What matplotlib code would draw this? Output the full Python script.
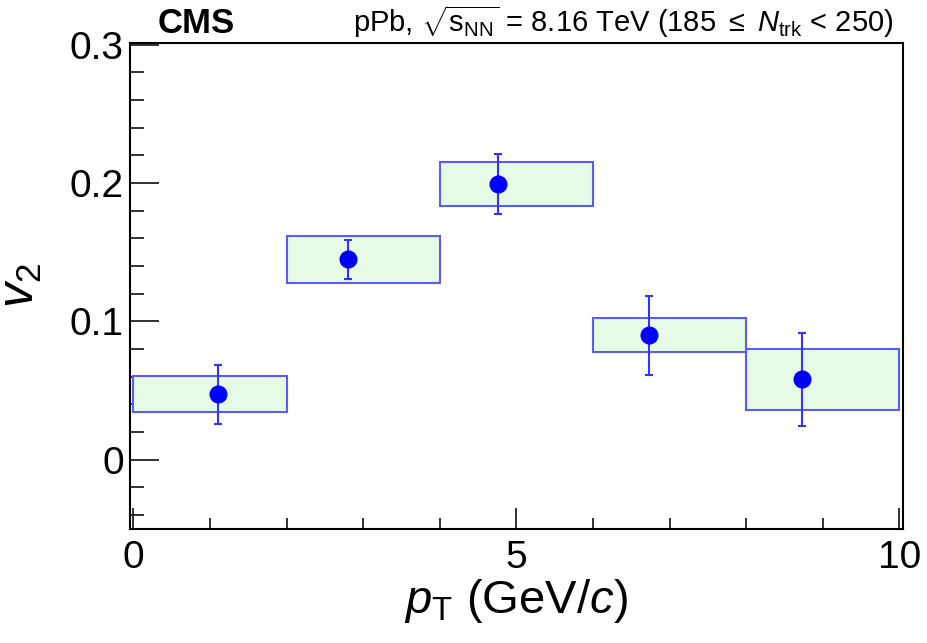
import matplotlib
matplotlib.use("Agg")
import matplotlib.pyplot as plt
from matplotlib.patches import Rectangle
from matplotlib.ticker import MultipleLocator, FixedLocator
import numpy as np

plt.rcParams['font.family'] = ['Liberation Sans', 'DejaVu Sans']
plt.rcParams['mathtext.fontset'] = 'custom'
plt.rcParams['mathtext.rm'] = 'Liberation Sans'
plt.rcParams['mathtext.it'] = 'Liberation Sans:italic'
plt.rcParams['mathtext.bf'] = 'Liberation Sans:bold'

# data
pt = [1.108, 2.807, 4.76, 6.737, 8.73]
v2 = [0.0474, 0.1449, 0.199, 0.090, 0.058]
stat_lo = [0.026, 0.1309, 0.1774, 0.0611, 0.024]
stat_hi = [0.0686, 0.1588, 0.221, 0.1186, 0.0915]
bin_lo = [0, 2, 4, 6, 8]
bin_hi = [2, 4, 6, 8, 10]
sys_lo = [0.0344, 0.128, 0.183, 0.0778, 0.0356]
sys_hi = [0.0604, 0.1617, 0.215, 0.1023, 0.080]

fig = plt.figure(figsize=(9.27, 6.43), dpi=100)
ax = fig.add_axes([0.1397, 0.1778, 0.9744 - 0.1397, 0.9327 - 0.1778])

for i in range(len(pt)):
    ax.add_patch(Rectangle((bin_lo[i], sys_lo[i]), bin_hi[i] - bin_lo[i],
                           sys_hi[i] - sys_lo[i], facecolor='#e6fbe6',
                           edgecolor='#5a5aff', linewidth=1.5, zorder=2))

v2 = np.array(v2)
yerr = [v2 - np.array(stat_lo), np.array(stat_hi) - v2]
ax.errorbar(pt, v2, yerr=yerr, fmt='o', color='#0000ff', ecolor='#3333ff',
            markersize=12, elinewidth=1.5, capsize=3, capthick=1.5, zorder=3)

ax.set_xlim(-0.05, 10.05)
ax.set_ylim(-0.05, 0.301)

ax.xaxis.set_major_locator(FixedLocator([0, 5, 10]))
ax.xaxis.set_minor_locator(FixedLocator([1, 2, 3, 4, 6, 7, 8, 9]))
ax.yaxis.set_major_locator(FixedLocator([0, 0.1, 0.2, 0.3]))
ax.yaxis.set_minor_locator(MultipleLocator(0.02))
ax.set_xticklabels(['0', '5', '10'])
ax.set_yticklabels(['0', '0.1', '0.2', '0.3'])

ax.tick_params(axis='both', which='both', direction='in', top=False, right=False,
               labelsize=28, width=1.3, color='#222222')
ax.tick_params(axis='x', which='major', length=15, pad=8)
ax.tick_params(axis='x', which='minor', length=8)
ax.tick_params(axis='y', which='major', length=21, pad=4)
ax.tick_params(axis='y', which='minor', length=10)
for s in ax.spines.values():
    s.set_linewidth(1.5)

ax.set_xlabel(r'$p_{\mathrm{T}}$ (GeV/$c$)', fontsize=34, labelpad=0)
ax.xaxis.set_label_coords(0.5, -0.10)
ax.set_ylabel(r'$v_{2}$', fontsize=36)
ax.yaxis.set_label_coords(-0.11, 0.5)

fig.text(0.170, 0.938, 'CMS', fontsize=25, fontweight='bold', ha='left', va='bottom')
fig.text(0.964, 0.938,
         r'pPb, $\sqrt{\mathrm{s}_{\mathrm{NN}}}$ = 8.16 TeV (185 $\leq$ $N_{\mathrm{trk}}$ < 250)',
         fontsize=21, ha='right', va='bottom')

fig.savefig('out.png', dpi=100)
